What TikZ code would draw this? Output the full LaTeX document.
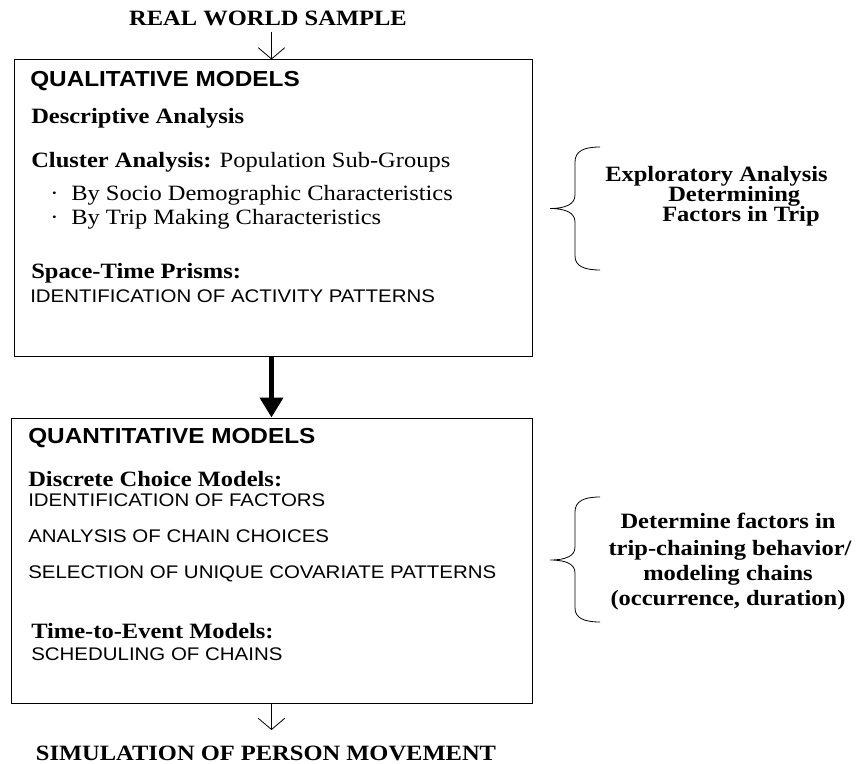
\documentclass[tikz,border=0pt]{standalone}
\usepackage{fontspec}
\setmainfont[FakeStretch=1.12]{Liberation Serif}
\setsansfont[FakeStretch=1.12]{Liberation Sans}
\newfontfamily\headfont[FakeStretch=1.12]{Liberation Sans}
\usepackage{tikz}
\usetikzlibrary{arrows.meta}
\tikzstyle{modelbox} = [rectangle, sharp corners, draw, line width=0.75pt,
                     inner sep=0pt]
\tikzstyle{endtext} = [anchor=base, inner sep=0pt,
                     font=\bfseries\fontsize{16.4pt}{19pt}\selectfont]

\begin{document}
\begin{tikzpicture}[x=0.75pt, y=-0.75pt,
heading/.style={anchor=base west, inner sep=0pt, font=\headfont\bfseries\fontsize{16.3pt}{19pt}\selectfont},
subhead/.style={anchor=base west, inner sep=0pt, font=\fontsize{16.4pt}{19pt}\selectfont},
capstext/.style={anchor=base west, inner sep=0pt, font=\sffamily\fontsize{13.7pt}{16pt}\selectfont},
bracetext/.style={inner sep=0pt, font=\bfseries\fontsize{16.4pt}{19pt}\selectfont},
bracket/.style={line width=0.6pt},
thinarrow/.style={-{Straight Barb[width=20pt,length=8.5pt]}, line width=0.6pt},
thickarrow/.style={-{Triangle[width=17pt,length=15pt]}, line width=3.75pt}]
\useasboundingbox (0,0) rectangle (859,763);

%Boxes
\node[modelbox, minimum width=388.5pt, minimum height=222pt] at (273,208) (qual){};
\node[modelbox, minimum width=390.75pt, minimum height=213.75pt] at (271.5,560.5) (quant){};

%Sample and simulation
\node[endtext, outer ysep=4.5pt] at (268,26) (sample){REAL WORLD SAMPLE};
\node[endtext, outer ysep=11.6pt] at (266,760) (simulation){SIMULATION OF PERSON MOVEMENT};
\draw[thinarrow] (sample.south -| quant.north) -- (qual.north -| quant.north);
\draw[thickarrow] (qual.south -| quant.north) -- (quant.north);
\draw[thinarrow] (quant.south) -- (simulation.north -| quant.south);

% Qualitative
\node[heading] at (30,87) (qualhead){QUALITATIVE MODELS};
\node[subhead] at (31,123) (descriptive){\bfseries Descriptive Analysis};
\node[subhead] at (31,167) (cluster){{\bfseries Cluster Analysis:} Population Sub-Groups};
\node[subhead] at (50,200) (socio){\makebox[15.75pt][l]{·}By Socio Demographic Characteristics};
\node[subhead] at (50,224) (tripmaking){\makebox[15.75pt][l]{·}By Trip Making Characteristics};
\node[subhead] at (31,278) (prisms){\bfseries Space-Time Prisms:};
\node[capstext] at (30,302) (patterns){IDENTIFICATION OF ACTIVITY PATTERNS};

% Quantitative
\node[heading] at (28,443) (quanthead){QUANTITATIVE MODELS};
\node[subhead] at (28,486) (discrete){\bfseries Discrete Choice Models:};
\node[capstext] at (28,506) (factors){IDENTIFICATION OF FACTORS};
\node[capstext] at (28,542) (chains){ANALYSIS OF CHAIN CHOICES};
\node[capstext] at (28,578) (covariate){SELECTION OF UNIQUE COVARIATE PATTERNS};
\node[subhead] at (31,638) (timeevent){\bfseries Time-to-Event Models:};
\node[capstext] at (31,660) (scheduling){SCHEDULING OF CHAINS};

% Braces
\draw[bracket] (600,147) .. controls (584,147) and (575,151) .. (575,162) -- (575,195)
  .. controls (575,204) and (566,208.5) .. (550,208.5)
  .. controls (566,208.5) and (575,213) .. (575,222) -- (575,256)
  .. controls (575,266) and (584,270) .. (600,270);
\draw[bracket] (600,497) .. controls (584,497) and (575,501) .. (575,512) -- (575,547)
  .. controls (575,556) and (566,560) .. (550,560)
  .. controls (566,560) and (575,564) .. (575,573) -- (575,608)
  .. controls (575,618) and (584,622) .. (600,622);

%Brace texts
\node[bracetext, anchor=base west] at (605,181) (explore1){Exploratory Analysis};
\node[bracetext, anchor=base west] at (668,201) (explore2){Determining};
\node[bracetext, anchor=base west] at (662,221) (explore3){Factors in Trip};
\node[bracetext, anchor=base] at (728,528) (determine1){Determine factors in};
\node[bracetext, anchor=base] at (730,555) (determine2){trip-chaining behavior/};
\node[bracetext, anchor=base] at (728,580) (determine3){modeling chains};
\node[bracetext, anchor=base] at (728,605) (determine4){(occurrence, duration)};
\end{tikzpicture}
\end{document}
